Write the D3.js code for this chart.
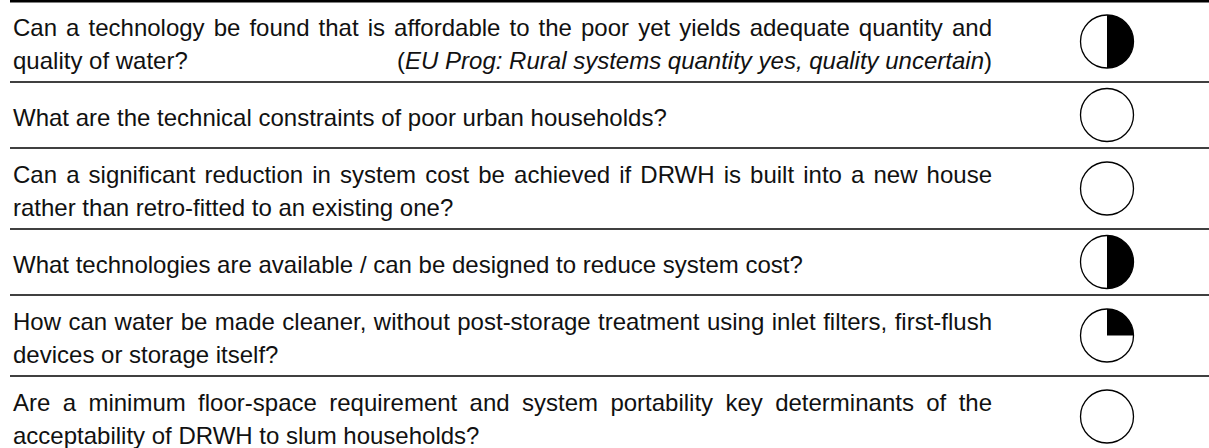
<!DOCTYPE html>
<html>
<head>
<meta charset="utf-8">
<script src="https://cdn.jsdelivr.net/npm/d3@7/dist/d3.min.js"></script>
<style>
  html, body { margin: 0; padding: 0; background: #fff; }
  svg { display: block; }
  text { font-family: "Liberation Sans", Arial, Helvetica, sans-serif; font-size: 24px; fill: #111; }
</style>
</head>
<body>
<svg id="chart" width="1209" height="448"></svg>
<script>
// ---- data ----
const questions = [
  ["Can a technology be found that is affordable to the poor yet yields adequate quantity and",
   "quality of water?"],
  ["What are the technical constraints of poor urban households?"],
  ["Can a significant reduction in system cost be achieved if DRWH is built into a new house",
   "rather than retro-fitted to an existing one?"],
  ["What technologies are available / can be designed to reduce system cost?"],
  ["How can water be made cleaner, without post-storage treatment using inlet filters, first-flush",
   "devices or storage itself?"],
  ["Are a minimum floor-space requirement and system portability key determinants of the",
   "acceptability of DRWH to slum households?"]
];
const notes = ["EU Prog: Rural systems quantity yes, quality uncertain", null, null, null, null, null];
const scores = [0.5, 0, 0, 0.5, 0.25, 0];

// ---- layout ----
const W = 1209, H = 448;
const svg = d3.select("#chart");
const textX0 = 13, textX1 = 992;
const lineX0 = 10;
const ballX = 1107, ballR = 26.5;
const rowH1 = 66, rowH2 = 81;

let y = 1;
const rows = questions.map((q, i) => {
  const h = q.length > 1 ? rowH2 : rowH1;
  const r = { i, top: y, h, lines: q, note: notes[i], score: scores[i] };
  y += h;
  return r;
});

const yScale = d3.scaleLinear().domain([0, 1]).range([0, 1]); // identity helper
const angle = d3.scaleLinear().domain([0, 1]).range([0, 2 * Math.PI]);

// top rule
svg.append("line")
  .attr("x1", lineX0).attr("x2", W).attr("y1", 1.2).attr("y2", 1.2)
  .attr("stroke", "#000").attr("stroke-width", 2.6);

function justifyLine(g, str, x0, x1, yy) {
  const words = str.split(" ");
  const els = words.map(w => g.append("text").attr("y", yy).text(w));
  const widths = els.map(e => e.node().getComputedTextLength());
  const total = d3.sum(widths);
  const gap = (x1 - x0 - total) / (words.length - 1);
  let x = x0;
  els.forEach((e, k) => { e.attr("x", x); x += widths[k] + gap; });
}

rows.forEach(r => {
  const g = svg.append("g");
  // separator at bottom of row (except the last, cut off)
  if (r.i < rows.length - 1) {
    g.append("line")
      .attr("x1", lineX0).attr("x2", W)
      .attr("y1", r.top + r.h).attr("y2", r.top + r.h)
      .attr("stroke", "#000").attr("stroke-width", 1.3);
  }
  // text lines
  const baselines = r.lines.length > 1 ? [r.top + 35, r.top + 68] : [r.top + 44];
  r.lines.forEach((ln, k) => {
    const last = k === r.lines.length - 1;
    if (!last) {
      justifyLine(g, ln, textX0, textX1, baselines[k]);
    } else {
      g.append("text").attr("x", textX0).attr("y", baselines[k]).text(ln);
    }
  });
  if (r.note) {
    const t = g.append("text")
      .attr("x", textX1).attr("y", baselines[baselines.length - 1])
      .attr("text-anchor", "end");
    t.append("tspan").text("(");
    t.append("tspan").attr("font-style", "italic").text(r.note);
    t.append("tspan").text(")");
  }
  // Harvey ball
  const cy = r.top + r.h / 2;
  const ball = g.append("g").attr("transform", `translate(${ballX},${cy})`);
  ball.append("circle").attr("r", ballR).attr("fill", "#fff");
  if (r.score > 0) {
    ball.append("path")
      .attr("d", d3.arc()({ innerRadius: 0, outerRadius: ballR, startAngle: 0, endAngle: angle(r.score) }))
      .attr("fill", "#000");
  }
  ball.append("circle").attr("r", ballR)
    .attr("fill", "none").attr("stroke", "#000").attr("stroke-width", 1.3);
});
</script>
</body>
</html>
